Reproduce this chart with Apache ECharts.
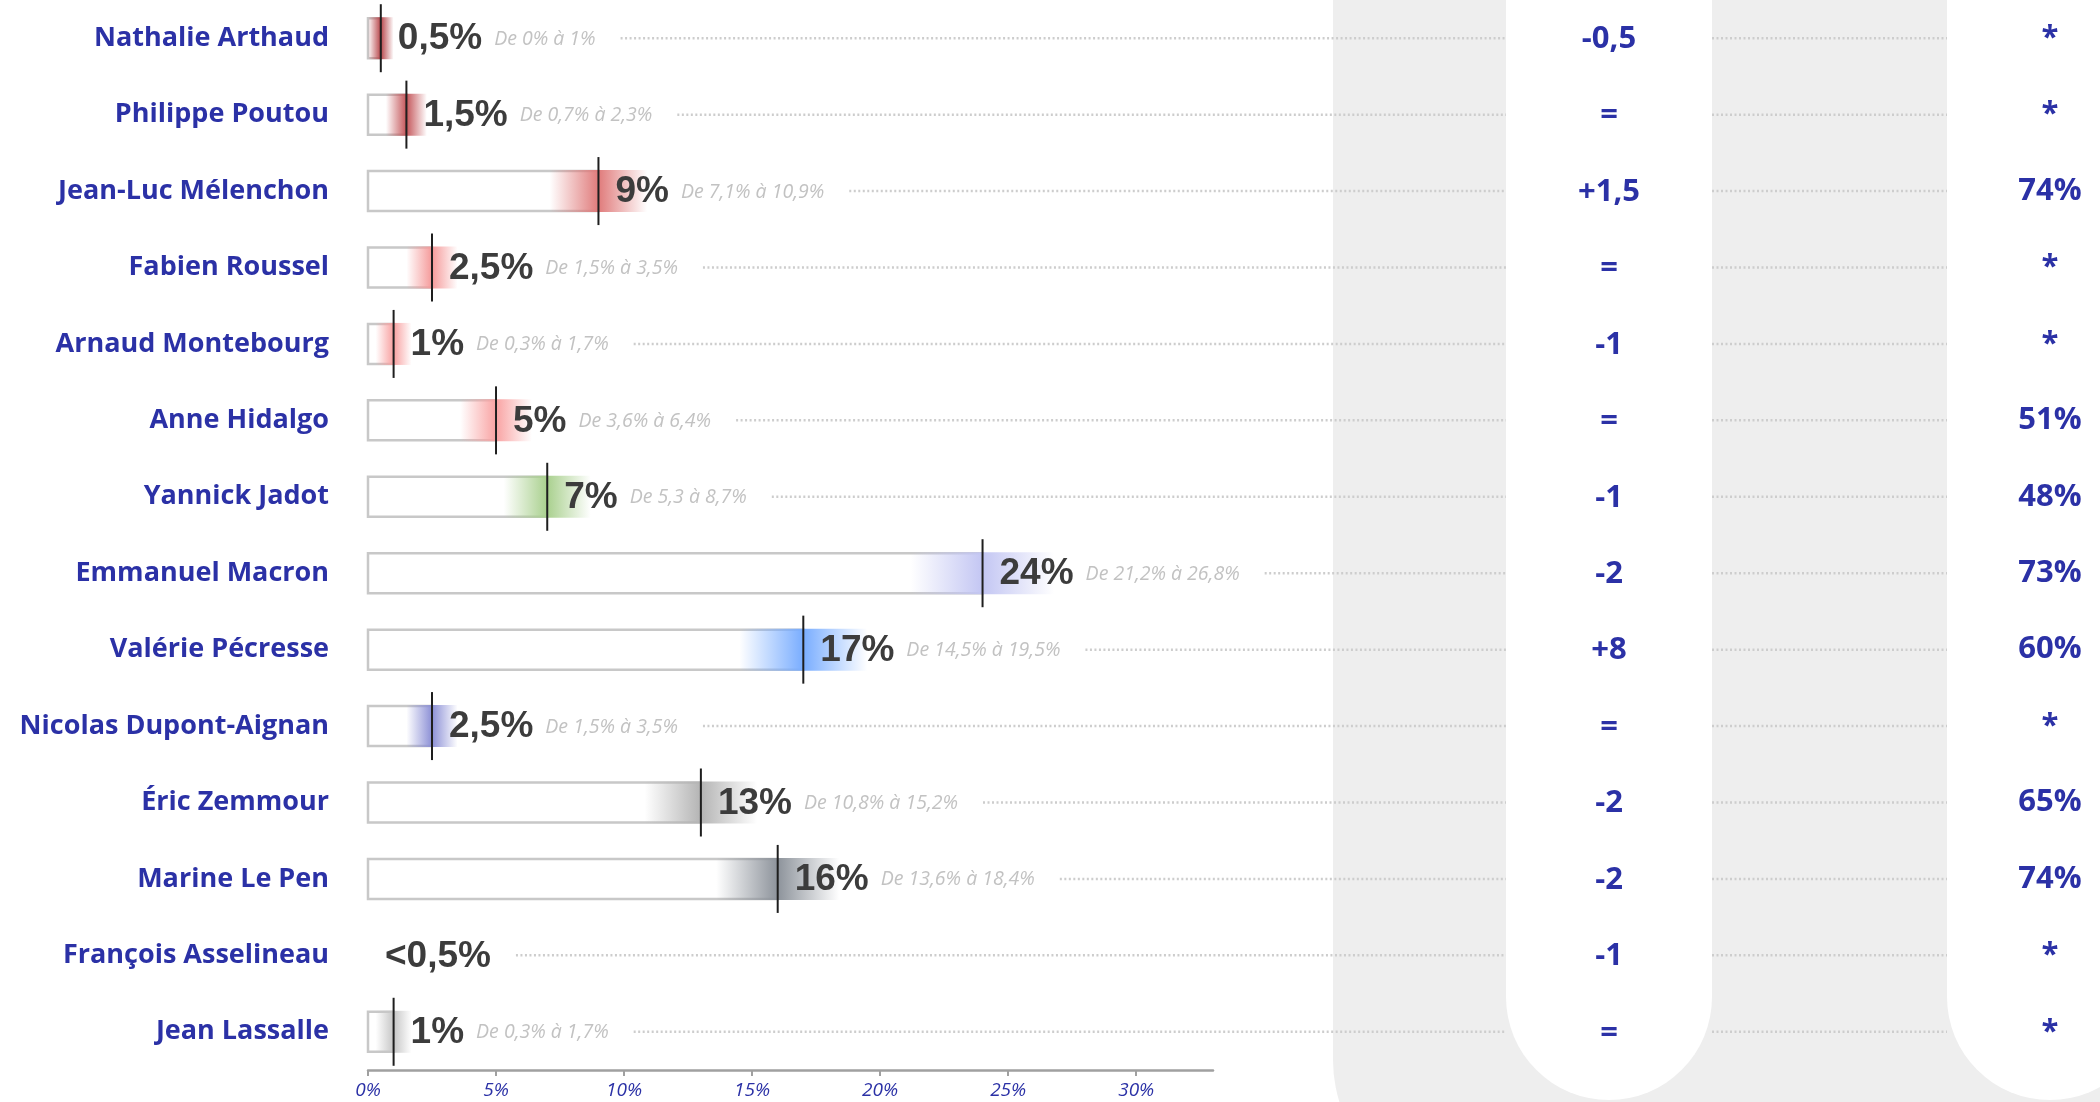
<!DOCTYPE html>
<html>
<head>
<meta charset="utf-8">
<script src="https://cdn.jsdelivr.net/npm/echarts@6/dist/echarts.min.js"></script>
<style>
  html, body { margin: 0; padding: 0; background: #fff; }
  #chart { width: 2100px; height: 1102px; }
</style>
</head>
<body>
<div id="chart"></div>
<script>
// data
const names = ['Nathalie Arthaud', 'Philippe Poutou', 'Jean-Luc Mélenchon', 'Fabien Roussel', 'Arnaud Montebourg', 'Anne Hidalgo', 'Yannick Jadot', 'Emmanuel Macron', 'Valérie Pécresse', 'Nicolas Dupont-Aignan', 'Éric Zemmour', 'Marine Le Pen', 'François Asselineau', 'Jean Lassalle'];
const values = [0.5, 1.5, 9, 2.5, 1, 5, 7, 24, 17, 2.5, 13, 16, null, 1];
const lows = [0, 0.7, 7.1, 1.5, 0.3, 3.6, 5.3, 21.2, 14.5, 1.5, 10.8, 13.6, null, 0.3];
const highs = [1, 2.3, 10.9, 3.5, 1.7, 6.4, 8.7, 26.8, 19.5, 3.5, 15.2, 18.4, null, 1.7];
const valueLabels = ['0,5%', '1,5%', '9%', '2,5%', '1%', '5%', '7%', '24%', '17%', '2,5%', '13%', '16%', '<0,5%', '1%'];
const rangeLabels = ['De 0% à 1%', 'De 0,7% à 2,3%', 'De 7,1% à 10,9%', 'De 1,5% à 3,5%', 'De 0,3% à 1,7%', 'De 3,6% à 6,4%', 'De 5,3 à 8,7%', 'De 21,2% à 26,8%', 'De 14,5% à 19,5%', 'De 1,5% à 3,5%', 'De 10,8% à 15,2%', 'De 13,6% à 18,4%', '', 'De 0,3% à 1,7%'];
const changes = ['-0,5', '=', '+1,5', '=', '-1', '=', '-1', '-2', '+8', '=', '-2', '-2', '-1', '='];
const scores = ['*', '*', '74%', '*', '*', '51%', '48%', '73%', '60%', '*', '65%', '74%', '*', '*'];
const barColors = ['#b8474c', '#c4565a', '#e07b7b', '#f59a9a', '#f8a0a0', '#f9a3a3', '#a9d08e', '#c3c6f3', '#79adff', '#8c90d6', '#b4b4b4', '#8d939b', null, '#c6c6c6'];
const tickValues = [0, 5, 10, 15, 20, 25, 30];

const BLUE = '#2b31a6';
const VALUE_FONT = 'bold 37px "Liberation Sans"';
const RANGE_FONT = 'italic 19.5px "Open Sans"';
const COL_FONT = 'bold 31px "Open Sans"';
// right-hand columns
const PANEL_LEFT = 1333, WHITE1_L = 1506, WHITE1_R = 1712, WHITE2_L = 1947;
const COL_CHANGE = (WHITE1_L + WHITE1_R) / 2, COL_SCORE = 2050;

const measureCtx = document.createElement('canvas').getContext('2d');
function textWidth(text, font) {
    measureCtx.font = font;
    return measureCtx.measureText(text).width;
}

function renderItem(params, api) {
    const i = params.dataIndex;
    const base = api.coord([0, i]);
    const cy = base[1];
    const children = [];
    let textX = base[0] + 17;
    if (values[i] != null) {
        const p = api.coord([values[i], i]);
        const pLow = api.coord([lows[i], i]);
        const pHigh = api.coord([highs[i], i]);
        const c = barColors[i];
        const clear = echarts.color.modifyAlpha(c, 0);
        children.push({
            type: 'rect',
            shape: { x: base[0], y: cy - 20, width: p[0] - base[0], height: 40 },
            style: { fill: '#fff', stroke: '#c8c8c8', lineWidth: 2.5 }
        });
        children.push({
            type: 'rect',
            shape: { x: pLow[0], y: cy - 21, width: p[0] - pLow[0], height: 42 },
            style: { fill: new echarts.graphic.LinearGradient(0, 0, 1, 0, [{ offset: 0, color: clear }, { offset: 1, color: c }]) }
        });
        children.push({
            type: 'rect',
            shape: { x: p[0], y: cy - 21, width: pHigh[0] - p[0], height: 42 },
            style: { fill: new echarts.graphic.LinearGradient(0, 0, 1, 0, [{ offset: 0, color: c }, { offset: 1, color: clear }]) }
        });
        children.push({
            type: 'line',
            shape: { x1: p[0], y1: cy - 34, x2: p[0], y2: cy + 34 },
            style: { stroke: '#1e1e1e', lineWidth: 2 }
        });
        textX = p[0] + 17;
    }
    children.push({
        type: 'text', x: textX, y: cy + 1,
        style: { text: valueLabels[i], font: VALUE_FONT, fill: '#3c3c3c', align: 'left', verticalAlign: 'middle' }
    });
    let endX = textX + textWidth(valueLabels[i], VALUE_FONT);
    if (rangeLabels[i]) {
        children.push({
            type: 'text', x: endX + 12, y: cy + 1,
            style: { text: rangeLabels[i], font: RANGE_FONT, fill: '#c2c2c2', align: 'left', verticalAlign: 'middle' }
        });
        endX += 12 + textWidth(rangeLabels[i], RANGE_FONT);
    }
    // dotted leader lines, broken by the white column
    const dot = { stroke: '#cdcdcd', lineWidth: 2.5, lineDash: [2, 2.5] };
    children.push({ type: 'line', shape: { x1: endX + 25, y1: cy, x2: WHITE1_L, y2: cy }, style: dot });
    children.push({ type: 'line', shape: { x1: WHITE1_R, y1: cy, x2: WHITE2_L, y2: cy }, style: dot });
    children.push({
        type: 'text', x: COL_CHANGE, y: cy + 1,
        style: { text: changes[i], font: COL_FONT, fill: BLUE, align: 'center', verticalAlign: 'middle' }
    });
    children.push({
        type: 'text', x: COL_SCORE, y: cy,
        style: { text: scores[i], font: COL_FONT, fill: BLUE, align: 'center', verticalAlign: 'middle' }
    });
    return { type: 'group', children: children };
}

const chart = echarts.init(document.getElementById('chart'));
const option = {
    animation: false,
    backgroundColor: '#fff',
    grid: { left: 368, right: 887, top: 0, bottom: 32 },
    graphic: [
        { type: 'rect', z: 0, shape: { x: PANEL_LEFT, y: -50, width: 900, height: 1250, r: [0, 0, 0, 140] }, style: { fill: '#eeeeee' } },
        { type: 'rect', z: 0, shape: { x: WHITE1_L, y: -300, width: WHITE1_R - WHITE1_L, height: 1400, r: [0, 0, 103, 103] }, style: { fill: '#fff' } },
        { type: 'rect', z: 0, shape: { x: WHITE2_L, y: -300, width: 206, height: 1400, r: [0, 0, 103, 103] }, style: { fill: '#fff' } }
    ],
    xAxis: {
        type: 'value',
        min: 0,
        max: 33,
        interval: 5,
        splitLine: { show: false },
        axisLine: { show: true, lineStyle: { color: '#a0a0a0', width: 2.5 } },
        axisTick: { show: true, length: 6, customValues: tickValues, lineStyle: { color: '#a0a0a0', width: 2 } },
        axisLabel: {
            customValues: tickValues,
            formatter: '{value}%',
            margin: 11,
            fontFamily: 'Open Sans',
            fontStyle: 'italic',
            fontSize: 19,
            color: BLUE
        }
    },
    yAxis: {
        type: 'category',
        data: names,
        inverse: true,
        axisLine: { show: false },
        axisTick: { show: false },
        axisLabel: { margin: 39, padding: [8, 0, 0, 0], fontFamily: 'Open Sans', fontWeight: 'bold', fontSize: 27, color: BLUE }
    },
    series: [{
        type: 'custom',
        z: 5,
        renderItem: renderItem,
        encode: { x: 0, y: 1 },
        data: names.map((n, i) => [values[i] == null ? 0 : values[i], i])
    }]
};
chart.setOption(option);
window.onresize = () => { chart.resize(); };
</script>
</body>
</html>
